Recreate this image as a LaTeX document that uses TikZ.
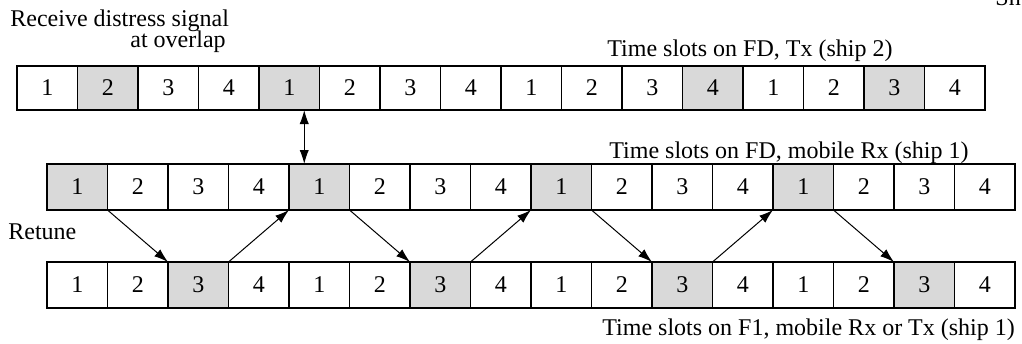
\documentclass[tikz,border=0pt]{standalone}
\usepackage{fontspec}
\setmainfont{Liberation Serif}
\usetikzlibrary{arrows.meta,calc}
\tikzset{
  cell/.style={draw, line width=0.75pt, minimum width=30.25pt, inner sep=0pt, outer sep=0pt, font=\fontsize{12}{14}\selectfont},
  hi/.style={fill=black!15},
  lbl/.style={anchor=base west, inner sep=0pt, font=\fontsize{12}{14}\selectfont},
  link/.style={line width=0.5pt, -{Latex[length=7pt,width=4.6pt]}},
  dlink/.style={line width=0.5pt, {Latex[length=7pt,width=4.6pt]}-{Latex[length=7pt,width=4.6pt]}},
}
\begin{document}
\begin{tikzpicture}[x=0.5pt,y=-0.5pt]
\useasboundingbox (0,0) rectangle (1022,343);
% row 1
\foreach \i in {1,...,16}{
  \pgfmathtruncatemacro{\lab}{mod(\i-1,4)+1}
  \pgfmathsetmacro{\cx}{17+(\i-1)*60.5+30.25}
  \ifnum\i=2 \def\st{hi}\else\ifnum\i=5 \def\st{hi}\else\ifnum\i=12 \def\st{hi}\else\ifnum\i=15 \def\st{hi}\else\def\st{}\fi\fi\fi\fi
  \node[cell, minimum height=22pt, \st] (r1c\i) at (\cx,88) {\lab};
}
% row 2
\foreach \i in {1,...,16}{
  \pgfmathtruncatemacro{\lab}{mod(\i-1,4)+1}
  \pgfmathsetmacro{\cx}{47+(\i-1)*60.5+30.25}
  \ifnum\lab=1 \def\st{hi}\else\def\st{}\fi
  \node[cell, minimum height=23pt, \st] (r2c\i) at (\cx,187) {\lab};
}
% row 3
\foreach \i in {1,...,16}{
  \pgfmathtruncatemacro{\lab}{mod(\i-1,4)+1}
  \pgfmathsetmacro{\cx}{47+(\i-1)*60.5+30.25}
  \ifnum\lab=3 \def\st{hi}\else\def\st{}\fi
  \node[cell, minimum height=23pt, \st] (r3c\i) at (\cx,285) {\lab};
}
% labels
\node[lbl] (t1) at (10,26) {Receive distress signal};
\node[lbl] (t2) at (130,47) {at overlap};
\node[lbl] (t3) at (607,56) {Time slots on FD, Tx (ship 2)};
\node[lbl] (t4) at (609,158) {Time slots on FD, mobile Rx (ship 1)};
\node[lbl] (t5) at (8,239) {Retune};
\node[lbl] (t6) at (602,335) {Time slots on F1, mobile Rx or Tx (ship 1)};
\node[lbl] (t7) at (995,5) {Sh};
% overlap arrow
\coordinate (ov) at ($(r1c5.south east)!0.5!(r2c5.north west)$);
\draw[dlink] (ov |- r1c5.south) -- (ov |- r2c5.north);
% retune arrows
\draw[link] (r2c1.south east) -- (r3c3.north west);
\draw[link] (r3c3.north east) -- (r2c5.south west);
\draw[link] (r2c5.south east) -- (r3c7.north west);
\draw[link] (r3c7.north east) -- (r2c9.south west);
\draw[link] (r2c9.south east) -- (r3c11.north west);
\draw[link] (r3c11.north east) -- (r2c13.south west);
\draw[link] (r2c13.south east) -- (r3c15.north west);
\end{tikzpicture}
\end{document}
